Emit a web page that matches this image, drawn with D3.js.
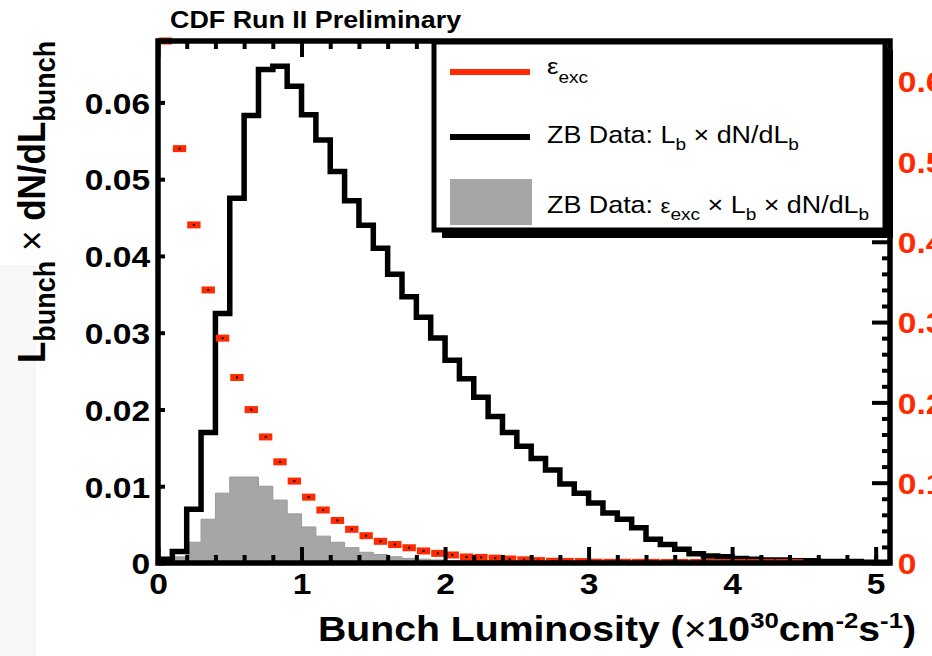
<!DOCTYPE html>
<html><head><meta charset="utf-8">
<script src="https://cdn.jsdelivr.net/npm/d3@7"></script>
<style>
body{margin:0;background:#fff}
svg{display:block}
text{font-family:"Liberation Sans",Arial,Helvetica,sans-serif}
</style>
</head><body>
<svg id="c" width="932" height="656"></svg>
<script>
// ---- data ----
const binLow = [0.0,0.1,0.2,0.3,0.4,0.5,0.6,0.7,0.8,0.9,1.0,1.1,1.2,1.3,1.4,1.5,1.6,1.7,1.8,1.9,
  2.0,2.1,2.2,2.3,2.4,2.5,2.6,2.7,2.8,2.9,3.0,3.1,3.2,3.3,3.4,3.5,3.6,3.7,3.8,3.9,
  4.0,4.1,4.2,4.3,4.4,4.5,4.6,4.7,4.8,4.9,5.0];
const binWidth = 0.1;
// ZB Data: Lb x dN/dLb (black histogram)
const zbData = [0.0005,0.0015,0.0070,0.0170,0.0325,0.0475,0.0583,0.0643,0.0647,0.0621,
  0.0584,0.0551,0.0510,0.0472,0.0440,0.0410,0.0376,0.0347,0.0320,0.0293,
  0.0264,0.0240,0.0216,0.0191,0.0170,0.0152,0.0136,0.0121,0.0103,0.0091,
  0.0078,0.0065,0.0057,0.0046,0.0031,0.0024,0.0018,0.0012,0.0009,0.0008,
  0.0006,0.0005,0.0004,0.0004,0.0003,0.0003,0.0002,0.0002,0.0002,0.0001,0.0001];
// ZB Data: eps_exc x Lb x dN/dLb (grey filled histogram)
const zbExc = [0.0003,0.0008,0.0027,0.0057,0.0091,0.0112,0.0112,0.0100,0.0082,0.0064,
  0.0047,0.0035,0.0027,0.0020,0.0014,0.0011,0.0008,0.0006,0.0005,0.0004,
  0.0003,0.0003,0.0002,0.0002,0.0002,0.0001,0.0001,0.0001,0.0001,0.0001,
  0.0001,0.0001,0.0001,0.0001,0.0001,0.0001,0.0001,0.0001,0.0001,0.0001,
  0.0001,0.0001,0.0001,0.0001,0.0001,0.0001,0.0001,0.0001,0.0001,0.0001,0.0000];
// eps_exc (red points, right axis), one per bin from 0.0 to 4.5
const effExc = [0.65,0.516,0.421,0.340,0.280,0.231,0.191,0.157,0.126,0.102,
  0.082,0.066,0.053,0.042,0.034,0.027,0.023,0.019,0.015,0.012,
  0.010,0.0075,0.007,0.006,0.005,0.004,0.003,0.0022,0.002,0.0018,
  0.0010,0.0009,0.0009,0.0008,0.0008,0.0007,0.0007,0.0007,0.0006,0.0006,
  0.0006,0.0005,0.0005,0.0005,0.0005];
const xMajor = [0,1,2,3,4,5];
const xMinor = [0.2,0.4,0.6,0.8,1.2,1.4,1.6,1.8,2.2,2.4,2.6,2.8,3.2,3.4,3.6,3.8,4.2,4.4,4.6,4.8,5.0];
const yLeftTicks = [0,0.01,0.02,0.03,0.04,0.05,0.06];
const yRightMajor = [0,0.1,0.2,0.3,0.4,0.5,0.6];
const yRightMinor = [0.02,0.04,0.06,0.08,0.12,0.14,0.16,0.18,0.22,0.24,0.26,0.28,0.32,0.34,0.36,0.38,0.42,0.44,0.46,0.48,0.52,0.54,0.56,0.58,0.62,0.64];

// ---- layout ----
const L = 158, R = 890, T = 41, B = 563;
const SX = 1.12; // horizontal text stretch of the original
const RED = "#ff2a00", GREY = "#a6a6a6";
const svg = d3.select("#c");
const x = d3.scaleLinear().domain([0, 5.1]).range([L, R]);
const yL = d3.scaleLinear().domain([0, 0.068]).range([B, T]);
const yR = d3.scaleLinear().domain([0, 0.65]).range([B, T]);

// faint background texture strip at left edge
svg.append("rect").attr("x",0).attr("y",265).attr("width",36).attr("height",391).attr("fill","#f7f7f7");

// helper for stretched text with sub/superscript parts
function stext(g, xx, yy, opts, parts) {
  const t = g.append("text")
    .attr("transform", opts.rotate ? `translate(${xx},${yy}) rotate(-90) scale(1,${SX})` : `translate(${xx},${yy}) scale(${SX},1)`)
    .attr("font-size", opts.size).attr("font-weight", opts.weight || "normal")
    .attr("fill", opts.fill || "#000").attr("text-anchor", opts.anchor || "start");
  let cur = 0;
  parts.forEach(p => {
    const sh = p.shift || 0;
    t.append("tspan").attr("dy", sh - cur).attr("font-size", p.size || opts.size)
      .attr("font-weight", p.weight || null).text(p.t);
    cur = sh;
  });
  return t;
}

const plot = svg.append("g");
svg.append("clipPath").attr("id","pc").append("rect")
  .attr("x", L).attr("y", T-4).attr("width", R-L).attr("height", B-T+4);

// grey filled histogram
const stepPts = (vals) => binLow.map((b,i)=>[b, vals[i]]).concat([[binLow[binLow.length-1]+binWidth, vals[vals.length-1]]]);
plot.append("path")
  .datum(stepPts(zbExc))
  .attr("fill", GREY).attr("stroke", "#999").attr("stroke-width", 1)
  .attr("d", d3.area().curve(d3.curveStepAfter).x(d=>x(d[0])).y0(yL(0)).y1(d=>yL(d[1])));

// black histogram line
plot.append("path")
  .datum(stepPts(zbData))
  .attr("fill","none").attr("stroke","#000").attr("stroke-width",5.5)
  .attr("stroke-linejoin","miter")
  .attr("d", d3.line().curve(d3.curveStepAfter).x(d=>x(d[0])).y(d=>yL(d[1])));

// red points (eps_exc)
const pts = plot.append("g").attr("clip-path","url(#pc)");
pts.selectAll("rect.e").data(effExc).join("rect").attr("class","e")
  .attr("x",(d,i)=>x(binLow[i])+0.5).attr("width",(d,i)=>x(binLow[i]+binWidth)-x(binLow[i])-1)
  .attr("y",d=>yR(d)-3.5).attr("height",7).attr("fill",RED);
pts.selectAll("rect.d").data(effExc).join("rect").attr("class","d")
  .attr("x",(d,i)=>x(binLow[i]+binWidth/2)-1).attr("width",2)
  .attr("y",d=>yR(d)-1).attr("height",2).attr("fill","#000");

// ---- axes (ticks inward) ----
function styleAxis(g){ g.select(".domain").remove(); g.selectAll(".tick line").attr("stroke","#000").attr("stroke-width",4); }
svg.append("g").attr("transform",`translate(0,${B})`).call(d3.axisBottom(x).tickValues(xMinor).tickSize(-8).tickFormat("")).call(styleAxis);
svg.append("g").attr("transform",`translate(0,${T})`).call(d3.axisTop(x).tickValues(xMinor).tickSize(-8).tickFormat("")).call(styleAxis);
svg.append("g").attr("transform",`translate(0,${T})`).call(d3.axisTop(x).tickValues(xMajor).tickSize(-16).tickFormat("")).call(styleAxis);
const xb = svg.append("g").attr("transform",`translate(0,${B})`)
  .call(d3.axisBottom(x).tickValues(xMajor).tickSize(-16).tickPadding(10).tickFormat(d3.format("d"))).call(styleAxis);
xb.selectAll(".tick text").attr("font-size",30).attr("font-weight","bold").attr("fill","#000")
  .attr("font-family",'"Liberation Sans",Arial,sans-serif').attr("transform",`scale(${SX},1)`).attr("y",10).attr("dy","0.71em");

const yl = svg.append("g").attr("transform",`translate(${L},0)`)
  .call(d3.axisLeft(yL).tickValues(yLeftTicks).tickSize(-7).tickPadding(7).tickFormat(d=>d===0?"0":d3.format(".2f")(d))).call(styleAxis);
yl.selectAll(".tick text").attr("font-size",30).attr("font-weight","bold").attr("fill","#000")
  .attr("font-family",'"Liberation Sans",Arial,sans-serif').attr("transform",`scale(${SX},1)`).attr("x",-7).attr("dy","0.36em");

svg.append("g").attr("transform",`translate(${R},0)`).call(d3.axisRight(yR).tickValues(yRightMinor).tickSize(-8).tickFormat("")).call(styleAxis);
const yr = svg.append("g").attr("transform",`translate(${R},0)`)
  .call(d3.axisRight(yR).tickValues(yRightMajor).tickSize(-18).tickPadding(8).tickFormat(d=>d===0?"0":d3.format(".1f")(d))).call(styleAxis);
yr.selectAll(".tick text").attr("font-size",30).attr("font-weight","bold").attr("fill",RED)
  .attr("font-family",'"Liberation Sans",Arial,sans-serif').attr("transform",`scale(${SX},1)`).attr("x",7).attr("dy","0.36em");

// frame
svg.append("rect").attr("x",L).attr("y",T).attr("width",R-L).attr("height",B-T)
  .attr("fill","none").attr("stroke","#000").attr("stroke-width",5.5);
// red marker at clipped top-left corner overlaps frame
pts.raise();

// ---- legend ----
const lg = svg.append("g");
lg.append("rect").attr("x",442).attr("y",50).attr("width",451).attr("height",188).attr("fill","#000");
lg.append("rect").attr("x",434).attr("y",42).attr("width",451).attr("height",188)
  .attr("fill","#fff").attr("stroke","#000").attr("stroke-width",5);
lg.append("line").attr("x1",450).attr("x2",530).attr("y1",72).attr("y2",72).attr("stroke",RED).attr("stroke-width",6);
lg.append("line").attr("x1",450).attr("x2",530).attr("y1",137).attr("y2",137).attr("stroke","#000").attr("stroke-width",6);
lg.append("rect").attr("x",450).attr("y",179).attr("width",82).attr("height",46).attr("fill",GREY);
stext(lg, 547, 74, {size:23}, [{t:"ε"},{t:"exc",size:17,shift:9}]);
stext(lg, 547, 143, {size:24}, [{t:"ZB Data: L"},{t:"b",size:17,shift:7},{t:" × dN/dL"},{t:"b",size:17,shift:7}]);
stext(lg, 547, 213, {size:24}, [{t:"ZB Data: "},{t:"ε",size:20},{t:"exc",size:17,shift:7},{t:" × L"},{t:"b",size:17,shift:7},{t:" × dN/dL"},{t:"b",size:17,shift:7}]);

// ---- titles ----
stext(svg, 170, 28, {size:24, weight:"bold"}, [{t:"CDF Run II Preliminary"}]);
stext(svg, 318, 641, {size:35, weight:"bold"}, [{t:"Bunch Luminosity ("},{t:"×",weight:"normal"},{t:"10"},{t:"30",size:23,shift:-13},{t:"cm"},{t:"-2",size:23,shift:-13},{t:"s"},{t:"-1",size:23,shift:-13},{t:")"}]);
stext(svg, 45, 363, {size:35, weight:"bold", rotate:true}, [{t:"L"},{t:"bunch",size:27,shift:9},{t:" × ",weight:"normal"},{t:"dN/dL"},{t:"bunch",size:27,shift:9}]);
</script>
</body></html>
